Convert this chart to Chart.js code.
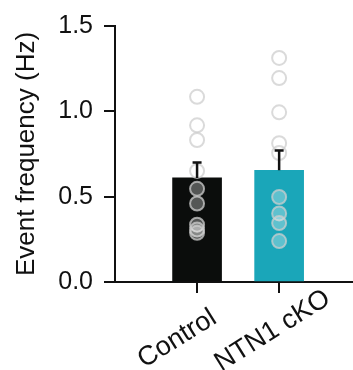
<!DOCTYPE html>
<html><head><meta charset="utf-8">
<script src="https://cdn.jsdelivr.net/npm/chart.js@4.4.1/dist/chart.umd.min.js"></script>
<style>html,body{margin:0;padding:0;background:#fff}#wrap{width:353px;height:370px}</style>
</head><body><div id="wrap"><canvas id="c" width="353" height="370"></canvas></div>
<script>
const categories = ['Control', 'NTN1 cKO'];
const meanValues = [0.61, 0.655];
const semValues = [0.09, 0.115];
const controlPoints = [1.085, 0.918, 0.832, 0.651, 0.546, 0.46, 0.336, 0.307, 0.288];
const ntn1Points = [1.313, 1.195, 0.994, 0.813, 0.756, 0.498, 0.402, 0.345, 0.24];
const yTickValues = [0, 0.5, 1.0, 1.5];
const barColors = ['#0b0d0c', '#1aa6b9'];

const FONT = "'Liberation Sans', Arial, Helvetica, sans-serif";
const INK = '#111';

const pointsData = [];
controlPoints.forEach(v => pointsData.push({x: 0, y: v}));
ntn1Points.forEach(v => pointsData.push({x: 1, y: v}));

const errorBarPlugin = {
  id: 'errorBars',
  afterDatasetsDraw(chart) {
    const ctx = chart.ctx, xs = chart.scales.x, ys = chart.scales.y;
    ctx.save();
    ctx.strokeStyle = INK;
    ctx.lineWidth = 2.5;
    meanValues.forEach((m, i) => {
      const px = xs.getPixelForValue(i);
      const y0 = ys.getPixelForValue(m);
      const y1 = ys.getPixelForValue(m + semValues[i]);
      ctx.beginPath();
      ctx.moveTo(px, y0); ctx.lineTo(px, y1);
      ctx.moveTo(px - 4.5, y1); ctx.lineTo(px + 4.5, y1);
      ctx.stroke();
    });
    ctx.restore();
  }
};

const noPad = s => { s.paddingLeft = 0; s.paddingRight = 0; };

new Chart(document.getElementById('c'), {
  type: 'bar',
  data: {
    datasets: [
      {
        type: 'scatter', data: pointsData, order: 0,
        pointRadius: 7, pointHoverRadius: 7, pointBorderWidth: 2,
        pointBackgroundColor: 'rgba(255,255,255,0.3)',
        pointBorderColor: 'rgba(205,205,205,0.75)'
      },
      {
        type: 'bar', order: 1,
        data: categories.map((c, i) => ({x: i, y: meanValues[i]})),
        backgroundColor: barColors, borderWidth: 0, barThickness: 49
      }
    ]
  },
  options: {
    responsive: false, animation: false, events: [],
    plugins: {legend: {display: false}, tooltip: {enabled: false}},
    layout: {autoPadding: false, padding: {top: 19, right: 0, left: 0, bottom: 0}},
    scales: {
      x2: {
        type: 'linear', min: -1, max: 1.9, position: 'bottom', weight: 0, offset: false,
        afterBuildTicks: s => { s.ticks = [{value: 1}]; },
        afterFit: s => { s.height = 0; noPad(s); },
        ticks: {
          callback: () => categories[1],
          minRotation: 32, maxRotation: 32, autoSkip: false, mirror: true,
          labelOffset: 66, padding: -28, color: INK,
          font: {family: FONT, size: 27}
        },
        grid: {display: false, drawTicks: false, offset: false},
        border: {display: false}
      },
      x: {
        type: 'linear', min: -1, max: 1.9, position: 'bottom', weight: 1, offset: false,
        afterBuildTicks: s => { s.ticks = categories.map((c, i) => ({value: i})); },
        afterFit: s => { s.height = 88; noPad(s); },
        ticks: {
          callback: (v, i) => i === 0 ? categories[0] : '',
          minRotation: 32, maxRotation: 32, autoSkip: false,
          labelOffset: 17, padding: 9, color: INK,
          font: {family: FONT, size: 27}
        },
        grid: {offset: false, drawOnChartArea: false, drawTicks: true, tickLength: 11, color: INK, lineWidth: 2},
        border: {color: INK, width: 2}
      },
      y: {
        min: 0, max: 1.5, position: 'left',
        afterBuildTicks: s => { s.ticks = yTickValues.map(v => ({value: v})); },
        afterFit: s => { s.width = 115; },
        ticks: {
          callback: v => v.toFixed(1), padding: 11, color: INK,
          font: {family: FONT, size: 25}
        },
        title: {
          display: true, text: 'Event frequency (Hz)', color: INK,
          font: {family: FONT, size: 26, weight: 'normal'},
          padding: {top: 11, bottom: 0}
        },
        grid: {drawOnChartArea: false, drawTicks: true, tickLength: 11, color: INK, lineWidth: 2},
        border: {color: INK, width: 2}
      }
    }
  },
  plugins: [errorBarPlugin]
});
</script>
</body></html>
